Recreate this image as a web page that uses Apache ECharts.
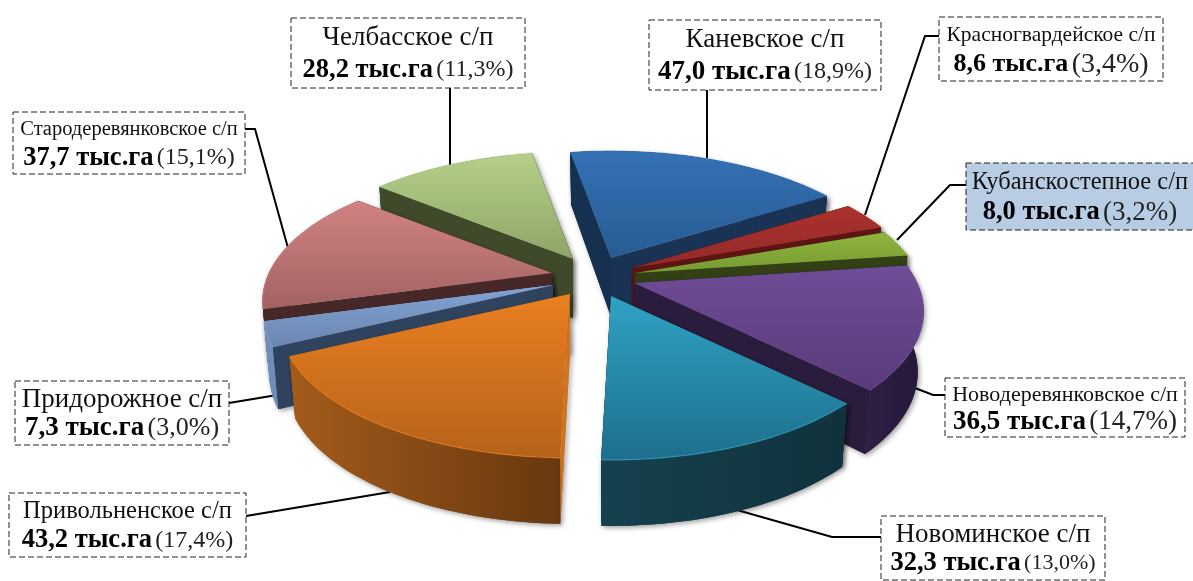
<!DOCTYPE html>
<html><head><meta charset="utf-8">
<style>html,body{margin:0;padding:0;background:#fff}#c{width:1193px;height:581px}</style>
<script src="https://cdn.jsdelivr.net/npm/echarts@6/dist/echarts.min.js"></script>
</head><body><div id="c"></div>
<script>
// --- data
const names = ['Каневское с/п','Красногвардейское с/п','Кубанскостепное с/п','Новодеревянковское с/п','Новоминское с/п','Привольненское с/п','Придорожное с/п','Стародеревянковское с/п','Челбасское с/п'];
const areas = [47.0,8.6,8.0,36.5,32.3,43.2,7.3,37.7,28.2];
const shares = ['18,9','3,4','3,2','14,7','13,0','17,4','3,0','15,1','11,3'];

// --- layout and style (not data)
const startAngle = -10, R = 283, tilt = 0.457, persp = 0.211;
const apexes = [[611,258],[632,268],[635,273],[634,283],[611,296],[570,294],[553,285],[552,273],[573,259]];
const drawOrder = [0,8,1,7,2,6,3,5,4];
const topColors = [['#3571b6','#275b92'],['#ab322d','#93292a'],['#8fb53d','#779a33'],['#6f4d97','#593b7a'],['#30a2c4','#1d6f8c'],['#ea7f20','#b5621a'],['#84a3d3','#6a86b0'],['#d28383','#a26262'],['#b5d08a','#8da567']];
const startWall = ['#16304f','#5e1512','#333f14','#2a1c3c','#12363f','#cf741d','#30435e','#472828','#3f4a2b'];
const endWall   = ['#1a3355','#5e1512','#333f14','#2a1c3c','#12363f','#8a4e16','#6c8ab6','#472828','#3f4a2b'];
const outerWall = [['#1a3355','#1a3355'],['#5e1512','#5e1512'],['#333f14','#333f14'],['#2f1f44','#24183a'],['#15414e','#10323c'],['#a45b1a','#673810'],['#6f8dba','#6f8dba'],['#472828','#472828'],['#3f4a2b','#3f4a2b']];
const boxes = [[649,20,232,70],[939,17,224,64],[966,163,228,67],[945,378,240,59],[881,516,224,64],[9,493,237,64],[15,381,214,64],[13,112,232,62],[291,18,234,70]];
const boxFill = ['#fff','#fff','#b8cce4','#fff','#fff','#fff','#fff','#fff','#fff'];
const nameSize = [27,21.5,24.5,22,27,24.5,27,20.5,27];
const valSize = [27,26,26.5,27,26.5,26.5,27,26.5,26.5];
const pctSize = [24,28,27,27,22,24,26,24,24];
const leaders = [
  [[707,90],[707,158]],
  [[939,36],[925,36],[865,215]],
  [[966,185],[950,185],[897,240]],
  [[915,388],[933,395],[945,395]],
  [[737,510],[832,537],[881,537]],
  [[246,516],[390,492]],
  [[229,403],[277,395]],
  [[245,129],[255,129],[288,248]],
  [[450,88],[450,165]]
];

// --- geometry derived from the values
const total = areas.reduce((a,b)=>a+b,0);
const spans = []; { let a = startAngle; areas.forEach(v=>{const s=v/total*360; spans.push([a,a+s]); a+=s;}); }
function rim(i,deg){
  const t=deg*Math.PI/180, x=Math.sin(t), y=Math.cos(t), d=1+persp*y;
  const px=apexes[i][0]+R*x/d;
  return {x:px, y:apexes[i][1]-R*tilt*y/d, h:59-7*y, bx:apexes[i][0]+(px-apexes[i][0])*0.98, fy:y};
}
function arc(i){
  const [a,b]=spans[i], n=Math.max(6,Math.ceil((b-a)/1.5)), out=[];
  for(let k=0;k<=n;k++) out.push(rim(i,a+(b-a)*k/n));
  return out;
}
const vgrad=(c)=>new echarts.graphic.LinearGradient(0,0,0,1,[{offset:0,color:c[0]},{offset:1,color:c[1]}]);
const hgrad=(c)=>new echarts.graphic.LinearGradient(0,0,1,0,[{offset:0,color:c[0]},{offset:1,color:c[1]}]);

function renderSlice(params,api){
  const i=api.value(0), A=apexes[i], pts=arc(i), first=pts[0], last=pts[pts.length-1], h0=59;
  const shadow={shadowBlur:5,shadowColor:'rgba(0,0,0,.38)',shadowOffsetX:2,shadowOffsetY:2};
  const poly=(points,fill,extra)=>({type:'polygon',shape:{points},style:Object.assign({fill,stroke:null},extra||{})});
  const outerPts=pts.map(p=>[p.x,p.y]).concat(pts.slice().reverse().map(p=>[p.bx,p.y+p.h]));
  const endPts=[[A[0],A[1]],[last.x,last.y],[last.bx,last.y+last.h],[A[0],A[1]+h0]];
  const startPts=[[A[0],A[1]],[first.x,first.y],[first.bx,first.y+first.h],[A[0],A[1]+h0]];
  const front=pts[Math.floor(pts.length/2)].fy<0;
  const faces=front
    ? [[endPts,endWall[i]],[startPts,startWall[i]],[outerPts,hgrad(outerWall[i])]]
    : [[outerPts,hgrad(outerWall[i])],[endPts,endWall[i]],[startPts,startWall[i]]];
  const shadows=faces.map(f=>poly(f[0],f[1],shadow));   // soft outline shadow first
  const walls=faces.map(f=>poly(f[0],f[1]));            // clean faces above it
  return {type:'group',children:shadows.concat(walls,[
    poly([[A[0],A[1]]].concat(pts.map(p=>[p.x,p.y])),vgrad(topColors[i])),
    {type:'polyline',shape:{points:pts.map(p=>[p.x,p.y])},style:{stroke:topColors[i][0],lineWidth:1.2,fill:null,opacity:0.7}}
  ])};
}
function renderLeader(params,api){
  const i=api.value(0);
  return {type:'polyline',shape:{points:leaders[i]},style:{stroke:'#000',lineWidth:2,fill:null}};
}
function renderLabel(params,api){
  const i=api.value(0), b=boxes[i], cx=b[0]+b[2]/2;
  const serif='"Liberation Serif","Times New Roman",serif';
  return {type:'group',children:[
    {type:'rect',shape:{x:b[0],y:b[1],width:b[2],height:b[3]},style:{fill:boxFill[i],stroke:'#222',lineWidth:1,lineDash:[6,3]}},
    {type:'text',style:{x:cx,y:b[1]+b[3]*0.29,text:names[i],align:'center',verticalAlign:'middle',fill:'#111',font:nameSize[i]+'px '+serif}},
    {type:'text',style:{x:cx,y:b[1]+b[3]*0.74,align:'center',verticalAlign:'middle',fill:'#000',
      text:'{v|'+areas[i].toFixed(1).replace('.',',')+' тыс.га} {p|('+shares[i]+'%)}',
      rich:{v:{font:'bold '+valSize[i]+'px '+serif,fill:'#000'},p:{font:pctSize[i]+'px '+serif,fill:'#222'}}}}
  ]};
}
const chart=echarts.init(document.getElementById('c'),null,{renderer:'canvas'});
chart.setOption({
  backgroundColor:'#fff',animation:false,
  series:[
    {type:'custom',name:'leaders',coordinateSystem:'none',z:1,renderItem:renderLeader,data:names.map((n,i)=>[i]),silent:true},
    {type:'custom',name:'Площадь, тыс.га',coordinateSystem:'none',z:2,renderItem:renderSlice,data:drawOrder.map(i=>[i,areas[i]]),silent:true},
    {type:'custom',name:'labels',coordinateSystem:'none',z:3,renderItem:renderLabel,data:names.map((n,i)=>[i]),silent:true}
  ]
});
</script></body></html>
